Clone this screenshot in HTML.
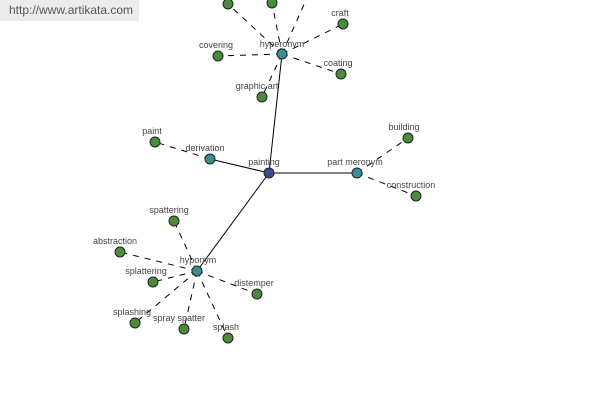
<!DOCTYPE html>
<html><head><style>
body{margin:0;background:#fff;width:600px;height:400px;overflow:hidden;position:relative}
.bar{position:absolute;left:0;top:0;width:139px;height:21px;background:#ececec;font:12px "Liberation Sans",sans-serif;color:#555;line-height:21px;padding-left:9px;box-sizing:border-box}
svg text{font-family:"Liberation Sans",sans-serif;font-size:9px;fill:#444;text-anchor:middle}
</style></head><body>
<div class="bar">http://www.artikata.com</div>
<svg width="600" height="400" style="position:absolute;left:0;top:0">
<g stroke="#000" stroke-width="1" fill="none">
<line x1="269" y1="173" x2="282" y2="54"/>
<line x1="269" y1="173" x2="210" y2="159"/>
<line x1="269" y1="173" x2="357" y2="173"/>
<line x1="269" y1="173" x2="197" y2="271"/>
</g>
<g stroke="#000" stroke-width="1" stroke-dasharray="6,6" fill="none">
<line x1="282" y1="54" x2="228" y2="4"/>
<line x1="282" y1="54" x2="272" y2="3"/>
<line x1="282" y1="54" x2="306" y2="0"/>
<line x1="282" y1="54" x2="343" y2="24"/>
<line x1="282" y1="54" x2="341" y2="74"/>
<line x1="282" y1="54" x2="218" y2="56"/>
<line x1="282" y1="54" x2="262" y2="97"/>
<line x1="210" y1="159" x2="155" y2="142"/>
<line x1="357" y1="173" x2="408" y2="138"/>
<line x1="357" y1="173" x2="416" y2="196"/>
<line x1="197" y1="271" x2="174" y2="221"/>
<line x1="197" y1="271" x2="120" y2="252"/>
<line x1="197" y1="271" x2="153" y2="282"/>
<line x1="197" y1="271" x2="135" y2="323"/>
<line x1="197" y1="271" x2="184" y2="329"/>
<line x1="197" y1="271" x2="228" y2="338"/>
<line x1="197" y1="271" x2="257" y2="294"/>
</g>
<g stroke="#222" stroke-width="1" fill="#4e8a3e">
<circle cx="228" cy="4" r="5"/><circle cx="272" cy="3" r="5"/>
<circle cx="343" cy="24" r="5"/><circle cx="341" cy="74" r="5"/>
<circle cx="218" cy="56" r="5"/><circle cx="262" cy="97" r="5"/>
<circle cx="155" cy="142" r="5"/><circle cx="408" cy="138" r="5"/>
<circle cx="416" cy="196" r="5"/><circle cx="174" cy="221" r="5"/>
<circle cx="120" cy="252" r="5"/><circle cx="153" cy="282" r="5"/>
<circle cx="135" cy="323" r="5"/><circle cx="184" cy="329" r="5"/>
<circle cx="228" cy="338" r="5"/><circle cx="257" cy="294" r="5"/>
</g>
<g stroke="#222" stroke-width="1" fill="#3a8f92">
<circle cx="282" cy="54" r="5"/><circle cx="210" cy="159" r="5"/>
<circle cx="357" cy="173" r="5"/><circle cx="197" cy="271" r="5"/>
</g>
<circle cx="269" cy="173" r="5" fill="#3e4a90" stroke="#222"/>
<text x="282" y="47">hyperonym</text>
<text x="340" y="16">craft</text>
<text x="338" y="66">coating</text>
<text x="216" y="48">covering</text>
<text x="257" y="89">graphic art</text>
<text x="152" y="134">paint</text>
<text x="205" y="151">derivation</text>
<text x="264" y="165">painting</text>
<text x="355" y="165">part meronym</text>
<text x="404" y="130">building</text>
<text x="411" y="188">construction</text>
<text x="169" y="213">spattering</text>
<text x="115" y="244">abstraction</text>
<text x="146" y="274">splattering</text>
<text x="198" y="263">hyponym</text>
<text x="254" y="286">distemper</text>
<text x="132" y="315">splashing</text>
<text x="179" y="321">spray spatter</text>
<text x="226" y="330">splash</text>
</svg>
</body></html>
